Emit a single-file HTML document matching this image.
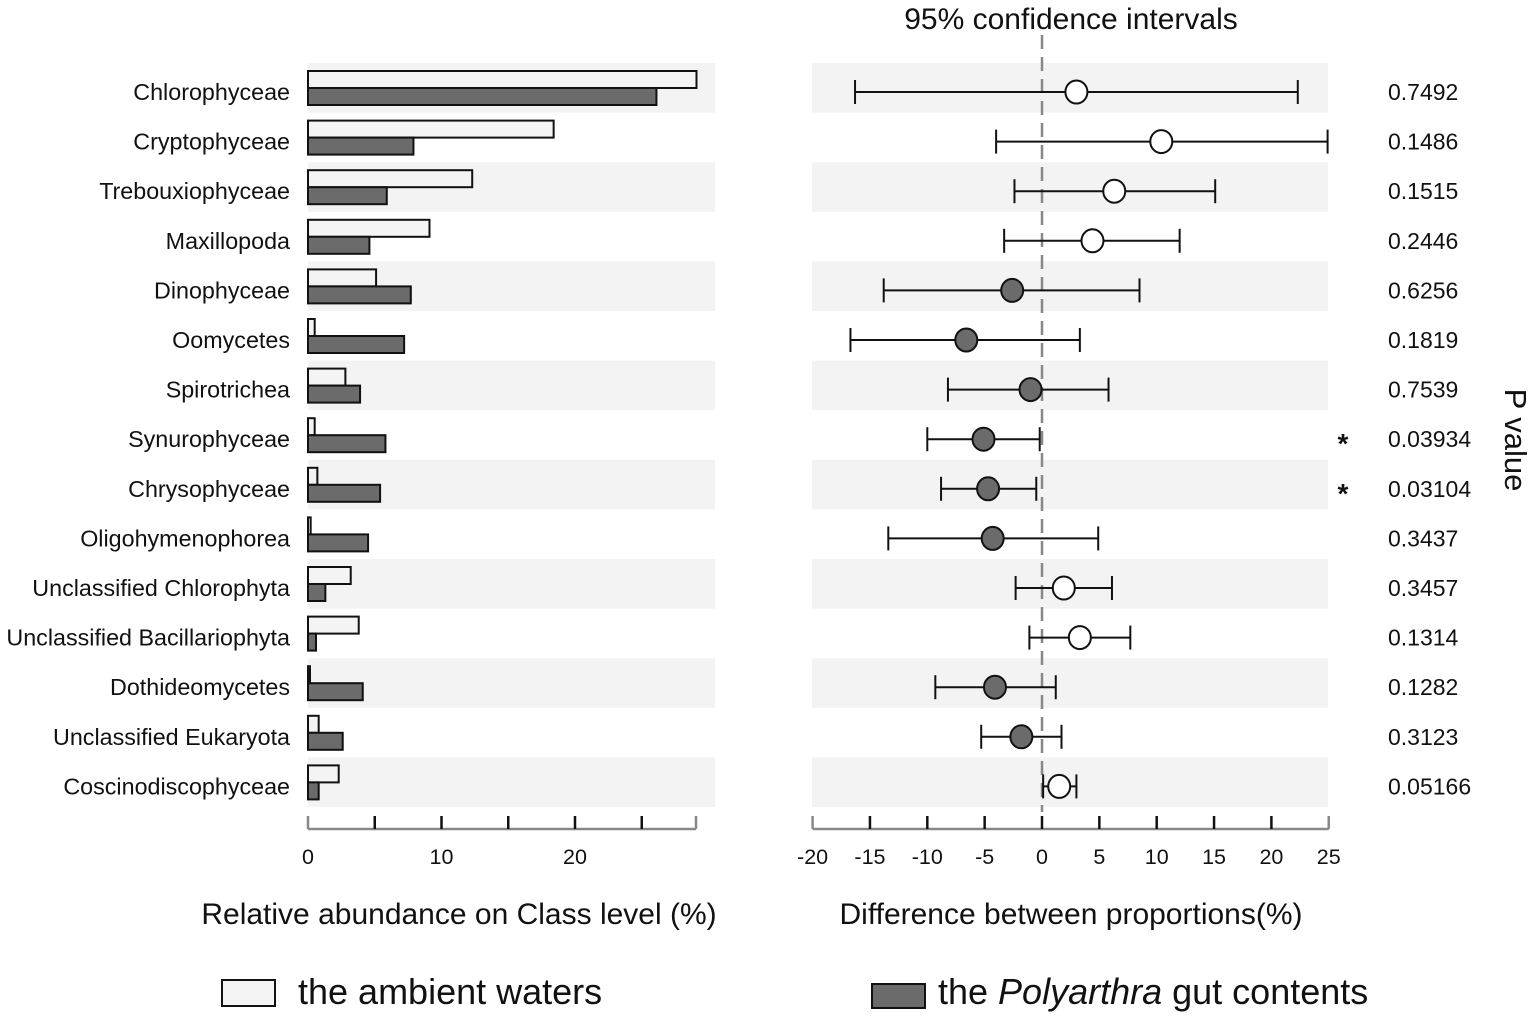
<!DOCTYPE html>
<html><head><meta charset="utf-8"><style>
html,body{margin:0;padding:0;background:#fff;}
svg{display:block;font-family:"Liberation Sans",Arial,sans-serif;}
</style></head><body>
<svg id="chart" width="1535" height="1018" viewBox="0 0 1535 1018" xmlns="http://www.w3.org/2000/svg"></svg>
<script>
const categories=["Chlorophyceae","Cryptophyceae","Trebouxiophyceae","Maxillopoda","Dinophyceae","Oomycetes","Spirotrichea","Synurophyceae","Chrysophyceae","Oligohymenophorea","Unclassified Chlorophyta","Unclassified Bacillariophyta","Dothideomycetes","Unclassified Eukaryota","Coscinodiscophyceae"];
const ambient=[29.1,18.4,12.3,9.1,5.1,0.5,2.8,0.5,0.7,0.2,3.2,3.8,0.15,0.8,2.3];
const gut=[26.1,7.9,5.9,4.6,7.7,7.2,3.9,5.8,5.4,4.5,1.3,0.6,4.1,2.6,0.8];
const diff=[3.0,10.4,6.3,4.4,-2.6,-6.6,-1.0,-5.1,-4.7,-4.3,1.9,3.3,-4.1,-1.8,1.5];
const ciLow=[-16.3,-4.0,-2.4,-3.3,-13.8,-16.7,-8.2,-10.0,-8.8,-13.4,-2.3,-1.1,-9.3,-5.3,0.1];
const ciHigh=[22.3,24.9,15.1,12.0,8.5,3.3,5.8,-0.2,-0.5,4.9,6.1,7.7,1.2,1.7,3.0];
const pvals=["0.7492","0.1486","0.1515","0.2446","0.6256","0.1819","0.7539","0.03934","0.03104","0.3437","0.3457","0.1314","0.1282","0.3123","0.05166"];
const leftTicks=[0,5,10,15,20,25];
const leftTickLabels=[0,10,20];
const rightTicks=[-20,-15,-10,-5,0,5,10,15,20,25];

const svg=document.getElementById('chart');
const NS='http://www.w3.org/2000/svg';
function mk(tag,attrs,parent){const e=document.createElementNS(NS,tag);for(const k in attrs)e.setAttribute(k,attrs[k]);(parent||svg).appendChild(e);return e;}
const xL=v=>308+v*13.35;
const xR=v=>1042+v*11.47;
const rowY=i=>92+i*49.6;

for(let i=0;i<categories.length;i+=2){
  const b1=mk('rect',{x:308,y:rowY(i)-29,width:407,height:49.6,fill:'#f3f3f3'});
  
  
  const b2=mk('rect',{x:812,y:rowY(i)-29,width:516,height:49.6,fill:'#f3f3f3'});
  
  
}
const zl=mk('line',{x1:xR(0),x2:xR(0),y1:35,y2:812,stroke:'#888','stroke-width':2.5,'stroke-dasharray':'14,8'});



categories.forEach((c,i)=>{
  const y=rowY(i);
  const t=mk('text',{x:290,y:y+8,'text-anchor':'end','font-size':23.3,fill:'#111'});t.textContent=c;
  
  
  const a=mk('rect',{x:xL(0),y:y-21,width:Math.max(xL(ambient[i])-xL(0),1),height:17,fill:'#f4f4f4',stroke:'#111','stroke-width':2});
  
  
  const g=mk('rect',{x:xL(0),y:y-4,width:Math.max(xL(gut[i])-xL(0),1),height:17,fill:'#6b6b6b',stroke:'#111','stroke-width':2});
  
  
  const ci=mk('line',{x1:xR(ciLow[i]),x2:xR(ciHigh[i]),y1:y,y2:y,stroke:'#111','stroke-width':2});
  
  
  [ciLow[i],ciHigh[i]].forEach(v=>{const cap=mk('line',{x1:xR(v),x2:xR(v),y1:y-12,y2:y+12,stroke:'#111','stroke-width':2});
    
    });
  const p=mk('ellipse',{cx:xR(diff[i]),cy:y,rx:11,ry:11.5,fill:diff[i]<0?'#6b6b6b':'#fff',stroke:'#111','stroke-width':2});
  
  
  const pv=mk('text',{x:1388,y:y+8,'font-size':23,fill:'#111'});pv.textContent=pvals[i];
  
  
  if(parseFloat(pvals[i])<0.05){const s=mk('text',{x:1343,y:y+14,'text-anchor':'middle','font-size':28,'font-weight':'bold',fill:'#111'});s.textContent='*';
    
    }
});

const la=mk('line',{x1:308,x2:696,y1:829,y2:829,stroke:'#888','stroke-width':2.5});


leftTicks.forEach(v=>{const t=mk('line',{x1:xL(v),x2:xL(v),y1:816,y2:829,stroke:v===0?'#888':'#111','stroke-width':2.5});
  
  });
const le=mk('line',{x1:696,x2:696,y1:816,y2:829,stroke:'#888','stroke-width':2.5});


leftTickLabels.forEach(v=>{const t=mk('text',{x:xL(v),y:864,'text-anchor':'middle','font-size':21.5,fill:'#111'});t.textContent=v;
  
  });
const ra=mk('line',{x1:xR(-20),x2:xR(25),y1:829,y2:829,stroke:'#888','stroke-width':2.5});


rightTicks.forEach((v,k)=>{const end=k===0||k===rightTicks.length-1;
  const t=mk('line',{x1:xR(v),x2:xR(v),y1:816,y2:829,stroke:end?'#888':'#111','stroke-width':2.5});
  
  
  const l=mk('text',{x:xR(v),y:864,'text-anchor':'middle','font-size':21.5,fill:'#111'});l.textContent=v;
  
  });

function txt(x,y,s,size,name,extra){const t=mk('text',Object.assign({x:x,y:y,'font-size':size,fill:'#111'},extra||{}));t.textContent=s;return t;}
txt(459,924,'Relative abundance on Class level (%)',30,'left-x-axis-title',{'text-anchor':'middle'});
txt(1071,924,'Difference between proportions(%)',30,'right-x-axis-title',{'text-anchor':'middle'});
txt(1071,29,'95% confidence intervals',30,'ci-title',{'text-anchor':'middle'});
txt(1505,440,'P value',31,'p-value-title',{'text-anchor':'middle',transform:'rotate(90 1505 440)'});

const lg1=mk('rect',{x:222,y:980,width:53,height:26,fill:'#f4f4f4',stroke:'#111','stroke-width':2});


txt(298,1004,'the ambient waters',36,'legend-label-ambient');
const lg2=mk('rect',{x:872,y:984,width:53,height:24,fill:'#6b6b6b',stroke:'#111','stroke-width':2});


const t2=txt(938,1004,'',36,'legend-label-gut');
t2.innerHTML='the <tspan font-style="italic">Polyarthra</tspan> gut contents';
</script>
</body></html>
